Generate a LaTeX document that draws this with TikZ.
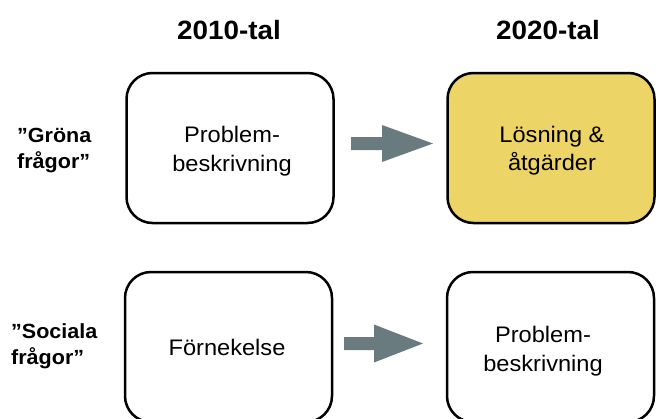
\documentclass[tikz,border=0pt]{standalone}
\usepackage{fontspec}
\setmainfont{Liberation Sans}[FakeStretch=1.05]
\usetikzlibrary{calc}

\definecolor{solution}{RGB}{236,212,102}
\definecolor{arrowgray}{RGB}{106,123,128}

\tikzset{
  stage/.style={draw=black, line width=2.5pt, rounded corners=26pt,
    minimum width=207pt, minimum height=150pt, inner sep=0pt, fill=white},
  boxtext/.style={inner sep=0pt, align=center,
    font=\fontsize{22.5}{28.5}\selectfont},
  header/.style={inner sep=0pt, font=\fontsize{26.5}{30}\selectfont\bfseries},
  rowlabel/.style={inner sep=0pt, anchor=west, align=left,
    font=\fontsize{20.5}{25.5}\selectfont\bfseries},
  blockarrow/.style={fill=arrowgray, draw=none}
}

\begin{document}
\begin{tikzpicture}[x=1pt, y=-1pt]
  \useasboundingbox (0,0) rectangle (659,418);

  % column headers
  \node[header] (h2010) at (229,30.5) {2010-tal};
  \node[header] (h2020) at (548,30.5) {2020-tal};

  % row labels
  \node[rowlabel] (green)  at (17,150.5)  {”Gröna\\frågor”};
  \node[rowlabel] (social) at (11,346) {”Sociala\\frågor”};

  % stage boxes
  \node[stage] (gOld) at (230,148) {};
  \node[stage, fill=solution] (gNew) at (551,148) {};
  \node[stage] (sOld) at (228.5,347) {};
  \node[stage] (sNew) at (550.5,347) {};

  % box texts
  \node[boxtext] (gOldT) at (232,151) {Problem-\\beskrivning};
  \node[boxtext] (gNewT) at (552,150.5) {Lösning \&\\åtgärder};
  \node[boxtext] (sOldT) at (227,347) {Förnekelse};
  \node[boxtext] (sNewT) at (543,351) {Problem-\\beskrivning};

  % block arrows between the columns
  \coordinate (ga) at (351,143.5);
  \coordinate (sa) at (344,343.5);
  \fill[blockarrow, shift={(ga)}]
    (0,-6.5) -- (31,-6.5) -- (31,-18.5) -- (82,0) -- (31,18.5) -- (31,6.5) -- (0,6.5) -- cycle;
  \fill[blockarrow, shift={(sa)}]
    (0,-6.5) -- (30,-6.5) -- (30,-19) -- (79,0) -- (30,19) -- (30,6.5) -- (0,6.5) -- cycle;
\end{tikzpicture}
\end{document}
